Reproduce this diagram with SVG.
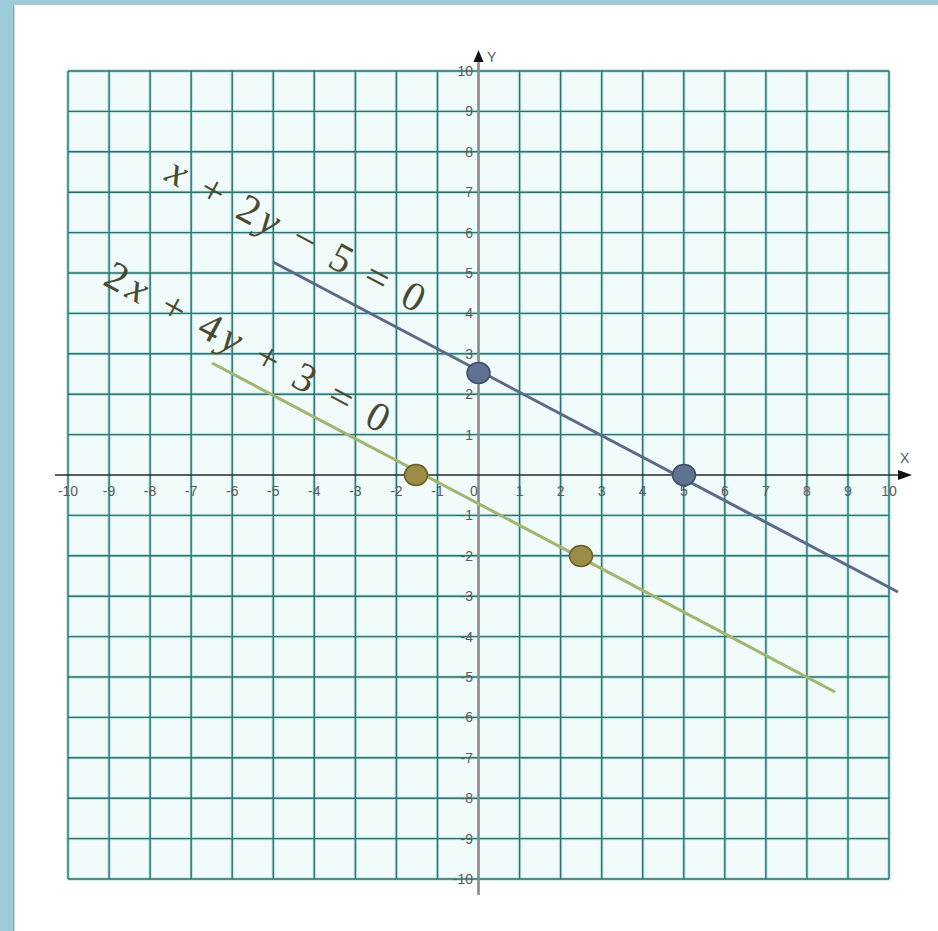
<svg xmlns="http://www.w3.org/2000/svg" width="938" height="931" viewBox="0 0 938 931">
<style>
.grid{stroke:#2f6f6c;stroke-width:1.4;fill:none}
.halo{stroke:#bfe9e6;stroke-width:3.5;fill:none}
.tl{font-family:"Liberation Sans",Arial,sans-serif;font-size:14px;fill:#5a5a5a}
.tx{text-anchor:middle}
.ty{text-anchor:end}
.eq{font-family:"Liberation Serif","Times New Roman",serif;font-size:41px;fill:#4a4a32}
.it{font-style:italic}
.l1{stroke:#5a6a88;stroke-width:3;fill:none}
.l2{stroke:#a3b56f;stroke-width:3;fill:none}
.p1{fill:#5f7190;stroke:#3e4e68;stroke-width:1.5}
.p2{fill:#9b8c48;stroke:#6b5e2a;stroke-width:1.5}
</style>
<rect x="0" y="0" width="938" height="931" fill="#ffffff"/>
<rect x="0" y="0" width="938" height="5" fill="#9dcbd8"/>
<rect x="0" y="0" width="14" height="931" fill="#9dcbd8"/>
<rect x="13" y="5" width="1.5" height="926" fill="#7fb0be"/>
<g id="grid">
<rect x="68" y="71" width="821" height="808" fill="#f1fbfb"/>
<path class="halo" d="M68 71V879M109.1 71V879M150.1 71V879M191.2 71V879M232.2 71V879M273.3 71V879M314.3 71V879M355.4 71V879M396.4 71V879M437.5 71V879M519.6 71V879M560.6 71V879M601.7 71V879M642.7 71V879M683.8 71V879M724.8 71V879M765.9 71V879M806.9 71V879M848 71V879M889 71V879M68 71H889M68 111.4H889M68 151.8H889M68 192.2H889M68 232.6H889M68 273H889M68 313.4H889M68 353.8H889M68 394.2H889M68 434.6H889M68 515.4H889M68 555.8H889M68 596.2H889M68 636.6H889M68 677H889M68 717.4H889M68 757.8H889M68 798.2H889M68 838.6H889M68 879H889"/>
<path class="grid" d="M68 71V879M109.1 71V879M150.1 71V879M191.2 71V879M232.2 71V879M273.3 71V879M314.3 71V879M355.4 71V879M396.4 71V879M437.5 71V879M519.6 71V879M560.6 71V879M601.7 71V879M642.7 71V879M683.8 71V879M724.8 71V879M765.9 71V879M806.9 71V879M848 71V879M889 71V879M68 71H889M68 111.4H889M68 151.8H889M68 192.2H889M68 232.6H889M68 273H889M68 313.4H889M68 353.8H889M68 394.2H889M68 434.6H889M68 515.4H889M68 555.8H889M68 596.2H889M68 636.6H889M68 677H889M68 717.4H889M68 757.8H889M68 798.2H889M68 838.6H889M68 879H889"/>
</g>
<g id="axes">
<line x1="478.5" y1="60" x2="478.5" y2="895" stroke="#8a8a8a" stroke-width="2.6"/>
<polygon points="478.5,50 473.5,62 483.5,62" fill="#111"/>
<line x1="55" y1="475" x2="900" y2="475" stroke="#2a2a2a" stroke-width="1.5"/>
<polygon points="912,475 898,470 898,480" fill="#111"/>
<text class="tl" x="487" y="62" font-size="14">Y</text>
<text class="tl" x="900" y="463" font-size="14">X</text>
</g>
<g id="x-labels" class="tl tx">
<text x="68" y="496">-10</text><text x="109.1" y="496">-9</text><text x="150.1" y="496">-8</text><text x="191.2" y="496">-7</text><text x="232.2" y="496">-6</text><text x="273.3" y="496">-5</text><text x="314.3" y="496">-4</text><text x="355.4" y="496">-3</text><text x="396.4" y="496">-2</text><text x="437.5" y="496">-1</text><text x="474" y="496">0</text><text x="519.6" y="496">1</text><text x="560.6" y="496">2</text><text x="601.7" y="496">3</text><text x="642.7" y="496">4</text><text x="683.8" y="496">5</text><text x="724.8" y="496">6</text><text x="765.9" y="496">7</text><text x="806.9" y="496">8</text><text x="848" y="496">9</text><text x="889" y="496">10</text>
</g>
<g id="y-labels" class="tl ty">
<text x="473" y="76">10</text><text x="473" y="116.4">9</text><text x="473" y="156.8">8</text><text x="473" y="197.2">7</text><text x="473" y="237.6">6</text><text x="473" y="278">5</text><text x="473" y="318.4">4</text><text x="473" y="358.8">3</text><text x="473" y="399.2">2</text><text x="473" y="439.6">1</text><text x="473" y="520.4">-1</text><text x="473" y="560.8">-2</text><text x="473" y="601.2">-3</text><text x="473" y="641.6">-4</text><text x="473" y="682">-5</text><text x="473" y="722.4">-6</text><text x="473" y="762.8">-7</text><text x="473" y="803.2">-8</text><text x="473" y="843.6">-9</text><text x="473" y="884">-10</text>
</g>
<g id="connectors">
<line class="l1" x1="273" y1="262" x2="898" y2="592"/>
<line class="l2" x1="212" y1="363" x2="835" y2="692"/>
</g>
<g id="label-line1">
<text class="eq" transform="translate(163.5,179.5) rotate(27.9)" x="0" y="0" textLength="286" lengthAdjust="spacing"><tspan class="it">x</tspan> + 2<tspan class="it">y</tspan> − 5 = 0</text>
</g>
<g id="label-line2">
<text class="eq" transform="translate(101.5,284) rotate(28.2)" x="0" y="0" textLength="317" lengthAdjust="spacing">2<tspan class="it">x</tspan> + 4<tspan class="it">y</tspan> + 3 = 0</text>
</g>
<g id="point-0-2.5"><ellipse class="p1" cx="478.5" cy="373" rx="11.5" ry="10.5"/></g>
<g id="point-5-0"><ellipse class="p1" cx="684" cy="475" rx="11.5" ry="10.5"/></g>
<g id="point-neg1.5-0"><ellipse class="p2" cx="416" cy="475" rx="11.5" ry="10.5"/></g>
<g id="point-2.5-neg2"><ellipse class="p2" cx="581" cy="556" rx="11.5" ry="10.5"/></g>
</svg>
